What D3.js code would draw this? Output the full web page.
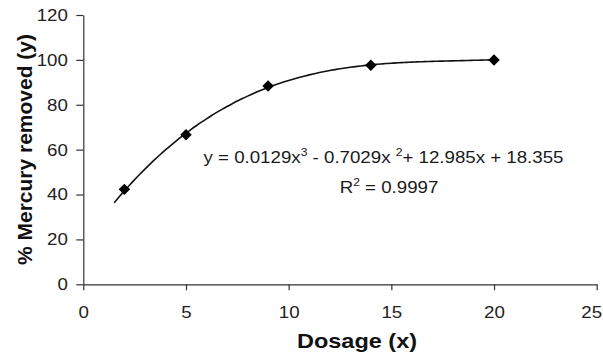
<!DOCTYPE html>
<html>
<head>
<meta charset="utf-8">
<script src="https://cdn.jsdelivr.net/npm/d3@7"></script>
<style>
  body { margin: 0; background: #fff; }
  svg { display: block; font-family: Arial, "Liberation Sans", sans-serif; }
</style>
</head>
<body>
<svg id="chart" width="603" height="357"></svg>
<script>
// data
const dosage = [2, 5, 9, 14, 20];
const removed = [42.3, 66.6, 88.4, 97.6, 100];
const xTicks = [0, 5, 10, 15, 20, 25];
const yTicks = [0, 20, 40, 60, 80, 100, 120];
// cubic trendline printed on the chart: a3, a2, a1, a0
const trendCoefs = [0.0129, -0.7029, 12.985, 18.355];
const trendRange = [1.5, 20];

const svg = d3.select('#chart');
const stretch = 1.1; // the picture is a bit wider than tall

let x = d3.scaleLinear().domain([0, 25]).range([83.3, 596.7]);
let y = d3.scaleLinear().domain([0, 120]).range([284.3, 15]);

function trend(v) {
  return trendCoefs[0]*v*v*v + trendCoefs[1]*v*v + trendCoefs[2]*v + trendCoefs[3];
}

// axes
let xAxis = svg.append('g')
  .attr('transform', `translate(0,${y(0)})`)
  .call(d3.axisBottom(x).tickValues(xTicks).tickSize(6).tickPadding(16).tickSizeOuter(0));
let yAxis = svg.append('g')
  .attr('transform', `translate(${x(0)},0)`)
  .call(d3.axisLeft(y).tickValues(yTicks).tickSize(7).tickPadding(7).tickSizeOuter(0));

[xAxis, yAxis].forEach(function(a) {
  a.select('.domain').attr('stroke', '#333').attr('stroke-width', 1.2);
  a.selectAll('.tick line').attr('stroke', '#333').attr('stroke-width', 1.2);
  a.selectAll('.tick text')
    .attr('fill', '#222')
    .style('font-size', '17px')
    .style('font-family', 'Arial, "Liberation Sans", sans-serif')
    .attr('transform', `scale(${stretch},1)`);
});
// last x label sits against the right edge
xAxis.selectAll('.tick text').filter(d => d === 25).attr('dx', -5);

// trendline
let samples = d3.range(trendRange[0], trendRange[1] + 0.001, 0.25);
let line = d3.line()
  .x(d => x(d))
  .y(d => y(trend(d)))
  .curve(d3.curveMonotoneX);
svg.append('path')
  .datum(samples)
  .attr('fill', 'none')
  .attr('stroke', '#111')
  .attr('stroke-width', 1.6)
  .attr('d', line);

// markers
svg.selectAll('path.pt')
  .data(dosage)
  .enter().append('path')
  .attr('class', 'pt')
  .attr('d', d3.symbol().type(d3.symbolSquare).size(66))
  .attr('transform', (d, i) => `translate(${x(d)},${y(removed[i])}) rotate(45)`)
  .attr('fill', '#000');

// equation
let eq = svg.append('text')
  .attr('transform', `translate(203.5,163) scale(${stretch},1)`)
  .style('font-size', '17px')
  .attr('fill', '#1a1a1a');
eq.append('tspan').text('y = 0.0129x');
eq.append('tspan').attr('dy', -7).style('font-size', '11px').text('3');
eq.append('tspan').attr('dy', 7).text(' - 0.7029x ');
eq.append('tspan').attr('dy', -7).style('font-size', '11px').text('2');
eq.append('tspan').attr('dy', 7).text('+ 12.985x + 18.355');

let r2 = svg.append('text')
  .attr('transform', `translate(389,193) scale(${stretch},1)`)
  .attr('text-anchor', 'middle')
  .style('font-size', '17px')
  .attr('fill', '#1a1a1a');
r2.append('tspan').text('R');
r2.append('tspan').attr('dy', -7).style('font-size', '11px').text('2');
r2.append('tspan').attr('dy', 7).text(' = 0.9997');

// axis titles
svg.append('text')
  .attr('transform', `translate(357,348.3) scale(1.12,1)`)
  .attr('text-anchor', 'middle')
  .style('font-size', '21px')
  .style('font-weight', 'bold')
  .attr('fill', '#111')
  .text('Dosage (x)');

svg.append('text')
  .attr('transform', `translate(32,149.5) rotate(-90)`)
  .attr('text-anchor', 'middle')
  .style('font-size', '21px')
  .style('font-weight', 'bold')
  .attr('fill', '#111')
  .text('% Mercury removed (y)');
</script>
</body>
</html>
